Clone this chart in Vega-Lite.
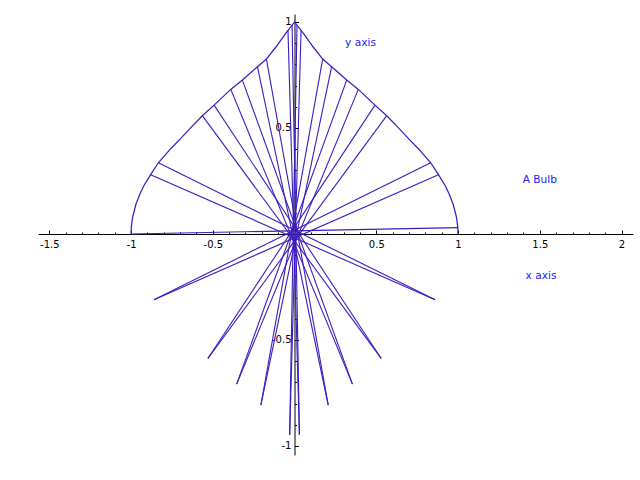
{
  "$schema": "https://vega.github.io/schema/vega-lite/v6.json",
  "width": 595,
  "height": 441,
  "autosize": {"type": "none"},
  "padding": {"left": 38, "top": 14, "right": 7, "bottom": 25},
  "background": "white",
  "config": {"view": {"stroke": null}, "font": "DejaVu Sans"},
  "resolve": {"axis": {"x": "independent", "y": "independent"}},
  "datasets": {
    "curve": [
      {"i": 0, "x": -1.0, "y": 0.0},
      {"i": 1, "x": -0.998, "y": 0.036},
      {"i": 2, "x": -0.99, "y": 0.081},
      {"i": 3, "x": -0.97, "y": 0.14},
      {"i": 4, "x": -0.945, "y": 0.19},
      {"i": 5, "x": -0.92, "y": 0.23},
      {"i": 6, "x": -0.88, "y": 0.28},
      {"i": 7, "x": -0.833, "y": 0.336},
      {"i": 8, "x": -0.76, "y": 0.4},
      {"i": 9, "x": -0.696, "y": 0.451},
      {"i": 10, "x": -0.63, "y": 0.505},
      {"i": 11, "x": -0.564, "y": 0.558},
      {"i": 12, "x": -0.492, "y": 0.608},
      {"i": 13, "x": -0.39, "y": 0.682},
      {"i": 14, "x": -0.319, "y": 0.726},
      {"i": 15, "x": -0.227, "y": 0.789},
      {"i": 16, "x": -0.172, "y": 0.825},
      {"i": 17, "x": -0.114, "y": 0.882},
      {"i": 18, "x": -0.06, "y": 0.94},
      {"i": 19, "x": 0.0, "y": 1.0},
      {"i": 20, "x": 0.06, "y": 0.94},
      {"i": 21, "x": 0.114, "y": 0.882},
      {"i": 22, "x": 0.172, "y": 0.825},
      {"i": 23, "x": 0.227, "y": 0.789},
      {"i": 24, "x": 0.319, "y": 0.726},
      {"i": 25, "x": 0.39, "y": 0.682},
      {"i": 26, "x": 0.492, "y": 0.608},
      {"i": 27, "x": 0.564, "y": 0.558},
      {"i": 28, "x": 0.63, "y": 0.505},
      {"i": 29, "x": 0.696, "y": 0.451},
      {"i": 30, "x": 0.76, "y": 0.4},
      {"i": 31, "x": 0.833, "y": 0.336},
      {"i": 32, "x": 0.88, "y": 0.28},
      {"i": 33, "x": 0.92, "y": 0.23},
      {"i": 34, "x": 0.945, "y": 0.19},
      {"i": 35, "x": 0.97, "y": 0.14},
      {"i": 36, "x": 0.99, "y": 0.081},
      {"i": 37, "x": 0.998, "y": 0.036},
      {"i": 38, "x": 1.0, "y": 0.0}
    ],
    "rays": [
      {"x": 0.88, "y": 0.28, "x2": -0.86, "y2": -0.31},
      {"x": 0.833, "y": 0.336, "x2": -0.86, "y2": -0.31},
      {"x": -0.88, "y": 0.28, "x2": 0.86, "y2": -0.31},
      {"x": -0.833, "y": 0.336, "x2": 0.86, "y2": -0.31},
      {"x": 0.564, "y": 0.558, "x2": -0.53, "y2": -0.587},
      {"x": 0.492, "y": 0.608, "x2": -0.53, "y2": -0.587},
      {"x": -0.564, "y": 0.558, "x2": 0.53, "y2": -0.587},
      {"x": -0.492, "y": 0.608, "x2": 0.53, "y2": -0.587},
      {"x": 0.39, "y": 0.682, "x2": -0.354, "y2": -0.708},
      {"x": 0.319, "y": 0.726, "x2": -0.354, "y2": -0.708},
      {"x": -0.39, "y": 0.682, "x2": 0.354, "y2": -0.708},
      {"x": -0.319, "y": 0.726, "x2": 0.354, "y2": -0.708},
      {"x": 0.227, "y": 0.789, "x2": -0.206, "y2": -0.807},
      {"x": 0.172, "y": 0.825, "x2": -0.206, "y2": -0.807},
      {"x": -0.227, "y": 0.789, "x2": 0.206, "y2": -0.807},
      {"x": -0.172, "y": 0.825, "x2": 0.206, "y2": -0.807},
      {"x": 0.04, "y": 0.96, "x2": -0.03, "y2": -0.948},
      {"x": 0.015, "y": 0.985, "x2": -0.03, "y2": -0.948},
      {"x": -0.04, "y": 0.96, "x2": 0.03, "y2": -0.948},
      {"x": -0.015, "y": 0.985, "x2": 0.03, "y2": -0.948},
      {"x": -1.0, "y": 0.0, "x2": 1.0, "y2": 0.03}
    ],
    "notes": [
      {"label": "A Bulb", "x": 1.5, "y": 0.255}
    ]
  },
  "layer": [
    {
      "data": {"name": "curve"},
      "mark": {"type": "line", "color": "#3a1cc0", "strokeWidth": 1.25},
      "encoding": {
        "x": {
          "field": "x", "type": "quantitative", "title": "x axis",
          "scale": {"domain": [-1.569, 2.07], "nice": false, "zero": false},
          "axis": {
            "orient": "bottom", "offset": -221,
            "values": [-1.5, -1, -0.5, 0.5, 1, 1.5, 2],
            "labelExpr": "'' + datum.value",
            "domainColor": "black", "domainWidth": 1,
            "tickColor": "black", "tickWidth": 1, "tickSize": -4,
            "labelFont": "DejaVu Sans", "labelFontSize": 10, "labelColor": "black",
            "labelPadding": 9, "labelOverlap": false, "labelFlush": false, "labelBound": false,
            "grid": false,
            "titleX": 502.5, "titleY": 41.3, "titleAlign": "center", "titleBaseline": "middle",
            "titleColor": "#2020ff", "titleFont": "DejaVu Sans", "titleFontSize": 10.6, "titleFontWeight": "normal"
          }
        },
        "y": {
          "field": "y", "type": "quantitative", "title": "y axis",
          "scale": {"domain": [-1.0425, 1.0377], "nice": false, "zero": false},
          "axis": {
            "orient": "left", "offset": -256.5,
            "values": [-1, -0.5, 0.5, 1],
            "labelExpr": "'' + datum.value",
            "domainColor": "black", "domainWidth": 1,
            "tickColor": "black", "tickWidth": 1, "tickSize": -4,
            "labelFont": "DejaVu Sans", "labelFontSize": 10, "labelColor": "black",
            "labelAlign": "right", "labelBaseline": "middle",
            "labelPadding": 7.5, "labelOverlap": false, "labelFlush": false, "labelBound": false,
            "grid": false,
            "titleX": 65.5, "titleY": 28.7, "titleAngle": 0, "titleAlign": "center", "titleBaseline": "middle",
            "titleColor": "#2020ff", "titleFont": "DejaVu Sans", "titleFontSize": 10.6, "titleFontWeight": "normal"
          }
        },
        "order": {"field": "i", "type": "quantitative"}
      }
    },
    {
      "data": {"name": "rays"},
      "mark": {"type": "rule", "color": "#3a1cc0", "strokeWidth": 1.1},
      "encoding": {
        "x": {
          "field": "x", "type": "quantitative",
          "axis": {
            "orient": "bottom", "offset": -221, "title": null,
            "values": [-1.5, -1.4, -1.3, -1.2, -1.1, -1, -0.9, -0.8, -0.7, -0.6, -0.5, -0.4, -0.3, -0.2, -0.1, 0.1, 0.2, 0.3, 0.4, 0.5, 0.6, 0.7, 0.8, 0.9, 1, 1.1, 1.2, 1.3, 1.4, 1.5, 1.6, 1.7, 1.8, 1.9, 2],
            "labels": false, "domain": false, "grid": false,
            "tickColor": "black", "tickWidth": 1, "tickSize": -2
          }
        },
        "y": {
          "field": "y", "type": "quantitative",
          "axis": {
            "orient": "left", "offset": -256.5, "title": null,
            "values": [-1, -0.9, -0.8, -0.7, -0.6, -0.5, -0.4, -0.3, -0.2, -0.1, 0.1, 0.2, 0.3, 0.4, 0.5, 0.6, 0.7, 0.8, 0.9, 1],
            "labels": false, "domain": false, "grid": false,
            "tickColor": "black", "tickWidth": 1, "tickSize": -2
          }
        },
        "x2": {"field": "x2"},
        "y2": {"field": "y2"}
      }
    },
    {
      "data": {"name": "notes"},
      "mark": {"type": "text", "color": "#2020ff", "font": "DejaVu Sans", "fontSize": 10.6, "align": "center", "baseline": "middle"},
      "encoding": {
        "x": {"field": "x", "type": "quantitative", "axis": null},
        "y": {"field": "y", "type": "quantitative", "axis": null},
        "text": {"field": "label"}
      }
    }
  ]
}
